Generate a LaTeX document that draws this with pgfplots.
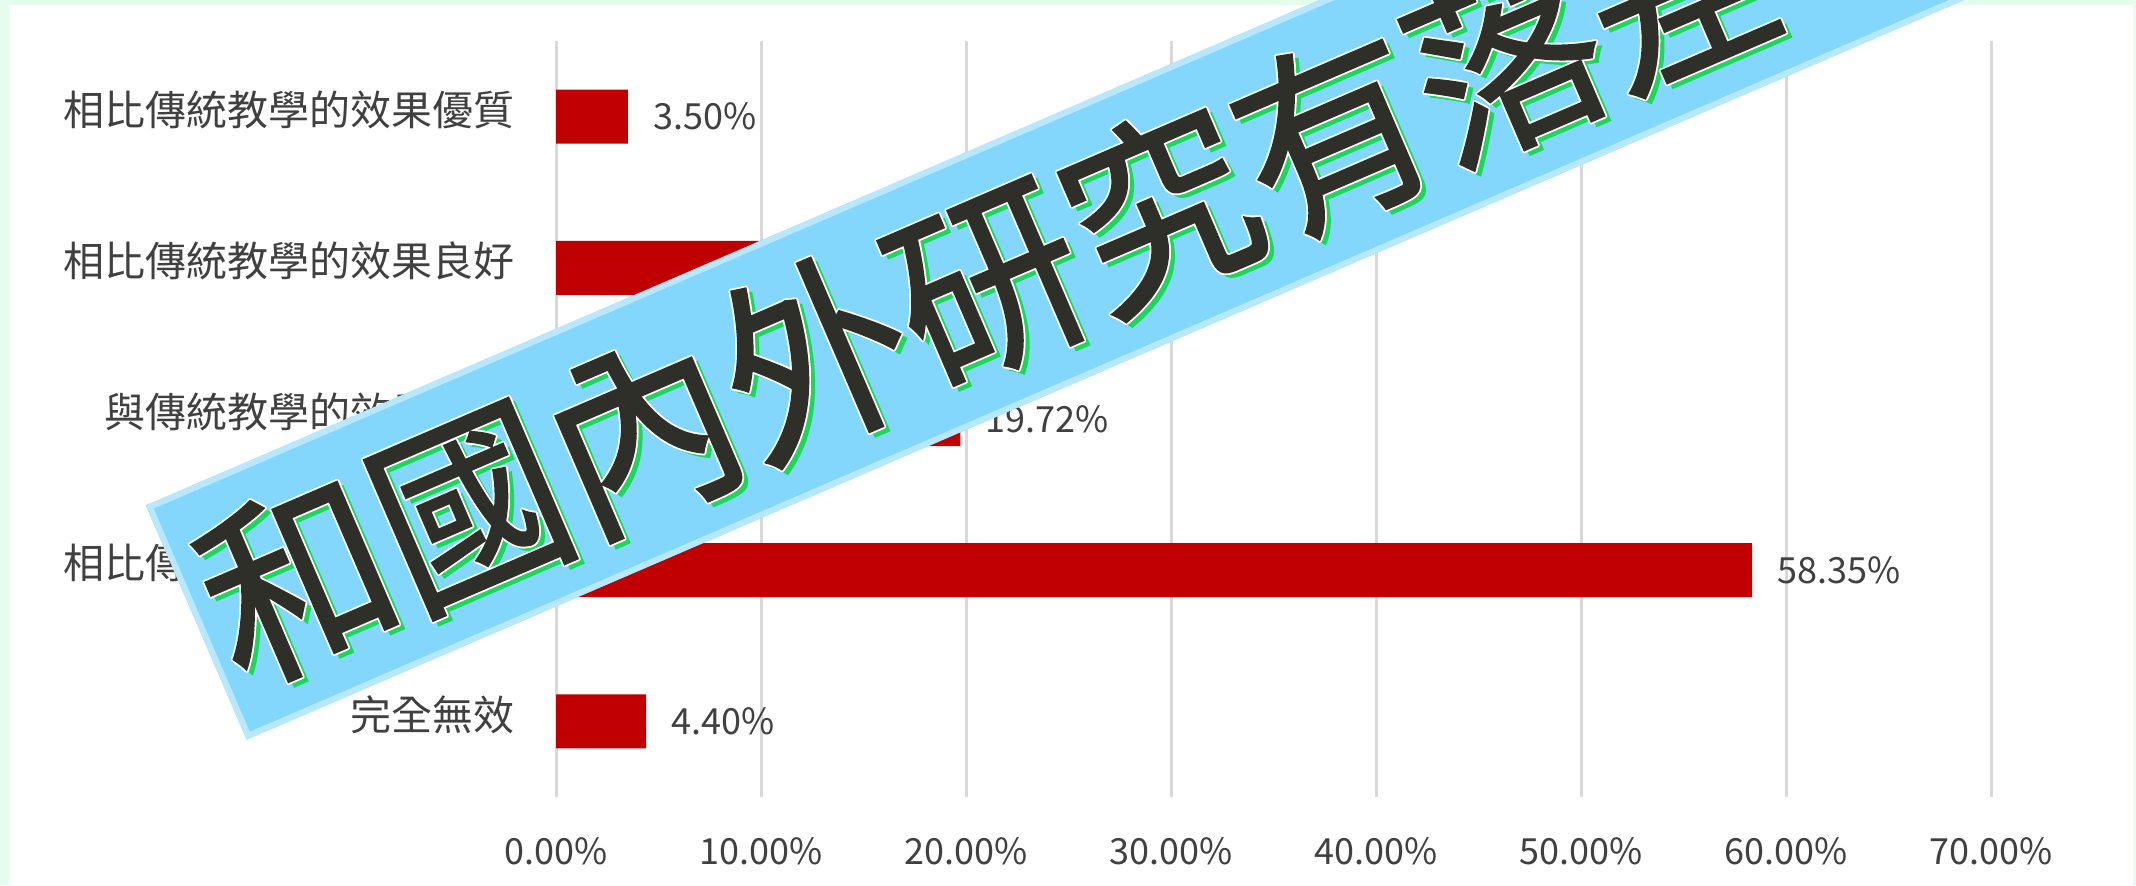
\documentclass[border=0pt]{standalone}
\usepackage{pgfplots}
\pgfplotsset{compat=1.18}
\usepackage{fontspec}
\setmainfont{Noto Sans CJK TC}
\newfontfamily\bannerfont[FakeBold=1.2]{Noto Sans CJK TC}

\definecolor{bgGreen}{HTML}{E6FCEC}
\definecolor{barRed}{HTML}{C00000}
\definecolor{gridGray}{HTML}{D9D9D9}
\definecolor{txtGray}{HTML}{404040}
\definecolor{bannerBlue}{HTML}{83D6FC}
\definecolor{bannerEdge}{HTML}{B8E8FD}
\definecolor{shadowGreen}{HTML}{1FD65C}
\definecolor{inkDark}{HTML}{2E2F29}

\newcommand{\bannertext}{和國內外研究有落差}
\newcommand{\bannernode}[2]{%
  \node[transform shape, text=#2, inner sep=0pt, yscale=1.06,
        font=\bannerfont\fontsize{94pt}{94pt}\selectfont] at (#1) {\bannertext};}

\begin{document}
\begin{tikzpicture}
\useasboundingbox (0,0) rectangle (1068pt,-442.5pt);
\begin{scope}
\clip (0,0) rectangle (1068pt,-442.5pt);
\fill[bgGreen] (0,0) rectangle (1068pt,-442.5pt);
\fill[white] (4.5pt,-2.5pt) rectangle (1066.5pt,-442.5pt);

\begin{axis}[
  at={(278pt,-398.5pt)}, anchor=south west,
  scale only axis, width=717.5pt, height=378pt,
  xbar, bar width=27pt,
  xmin=0, xmax=70, ymin=-0.5, ymax=4.5, y dir=reverse,
  axis line style={draw=none},
  major tick length=0pt,
  xmajorgrids, grid style={color=gridGray, line width=1.5pt},
  /pgf/number format/assume math mode=true,
  xtick={0,10,20,30,40,50,60,70},
  xticklabel={\pgfmathprintnumber[fixed,fixed zerofill,precision=2]{\tick}\%},
  xticklabel style={anchor=north, inner sep=0pt, yshift=-20pt,
    font=\fontsize{18pt}{18pt}\selectfont, text=txtGray},
  ytick={0,1,2,3,4},
  yticklabels={相比傳統教學的效果優質, 相比傳統教學的效果良好,
    與傳統教學的效果相當, 相比傳統教學的效果一般, 完全無效},
  yticklabel style={anchor=east, inner sep=0pt, xshift=-20.5pt, yshift=3.5pt,
    font=\fontsize{20.5pt}{20.5pt}\selectfont, text=txtGray},
  point meta=x,
  nodes near coords={\pgfmathprintnumber[fixed,fixed zerofill,precision=2]{\pgfplotspointmeta}\%},
  nodes near coords style={anchor=west, inner sep=0pt, xshift=12.5pt,
    font=\fontsize{18pt}{18pt}\selectfont, text=txtGray},
]
\addplot[fill=barRed, draw=none] coordinates {
  (3.50,0) (14.03,1) (19.72,2) (58.35,3) (4.40,4)
};
\end{axis}

% banner laid over the chart
\begin{scope}[shift={(493.5pt,-141pt)}, rotate=23.3]
  \fill[bannerBlue] (-430.5pt,-63.75pt) rectangle (1100pt,63.75pt);
  \draw[bannerEdge, line width=3pt] (-429pt,-62.25pt) rectangle (1100pt,62.25pt);
  \bannernode{1.8pt,-3.2pt}{shadowGreen}
  \foreach \a in {0,45,...,315} {\bannernode{\a:0.9pt}{white}}
  \bannernode{0pt,0pt}{inkDark}
\end{scope}
\end{scope}
\end{tikzpicture}
\end{document}
